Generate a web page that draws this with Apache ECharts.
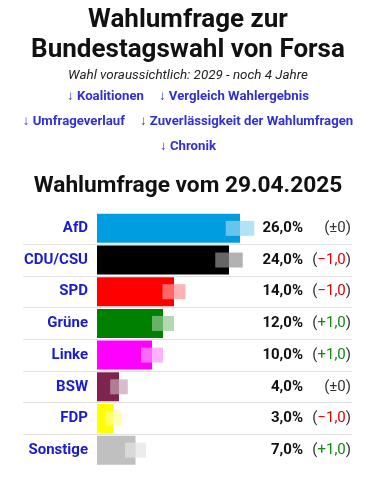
<!DOCTYPE html>
<html>
<head>
<meta charset="utf-8">
<script src="https://cdn.jsdelivr.net/npm/echarts@6/dist/echarts.min.js"></script>
<style>
html,body{margin:0;padding:0;background:#fff;}
#c{width:376px;height:480px;}
</style>
</head>
<body>
<div id="c"></div>
<script>
const categories = ['AfD', 'CDU/CSU', 'SPD', 'Grüne', 'Linke', 'BSW', 'FDP', 'Sonstige'];
const values = [26, 24, 14, 12, 10, 4, 3, 7];
const changes = [0, -1, -1, 1, 1, 0, -1, 1];
const margins = [2.6, 2.5, 2.1, 2.0, 2.0, 1.6, 1.5, 1.9];
const partyColors = ['#009ee0', '#000000', '#ff0000', '#008000', '#ff00ff', '#7d254f', '#ffff00', '#c0c0c0'];
const titleLines = ['Wahlumfrage zur', 'Bundestagswahl von Forsa'];
const subtitle = 'Wahl voraussichtlich: 2029 - noch 4 Jahre';
const linkRows = [['↓ Koalitionen', '↓ Vergleich Wahlergebnis'], ['↓ Umfrageverlauf', '↓ Zuverlässigkeit der Wahlumfragen'], ['↓ Chronik']];
const heading = 'Wahlumfrage vom 29.04.2025';

const FONT = 'Roboto';
const fmt = v => v.toFixed(1).replace('.', ',');

const titles = [];
titleLines.forEach((t, i) => titles.push({
  text: t, left: 'center', top: 5 + i * 30, padding: 0,
  textStyle: {fontFamily: FONT, fontSize: 26, fontWeight: 'bold', color: '#111', lineHeight: 30}
}));
titles.push({
  text: subtitle, left: 'center', top: 67, padding: 0,
  textStyle: {fontFamily: FONT, fontSize: 13.4, fontStyle: 'italic', fontWeight: 'normal', color: '#222', lineHeight: 18}
});
linkRows.forEach((row, i) => titles.push({
  text: row.map(s => '{a|' + s + '}').join('{g|}'), left: 'center', top: 88 + i * 25, padding: 0,
  textStyle: {
    rich: {
      a: {fontFamily: FONT, fontSize: 13.2, color: '#3030d6', lineHeight: 18},
      g: {width: 15, lineHeight: 18}
    }
  }
}));
titles.push({
  text: heading, left: 'center', top: 171, padding: 0,
  textStyle: {fontFamily: FONT, fontSize: 22.7, fontWeight: 'bold', color: '#111', lineHeight: 30}
});

function changeLabel(c) {
  if (c === 0) return '{p|(±0)}';
  const k = c > 0 ? 'g' : 'r';
  const s = (c > 0 ? '+' : '−') + fmt(Math.abs(c));
  return '{p|(}{' + k + '|' + s + '}{p|)}';
}

const gridTop = 212.5, gridH = 253.5;

const option = {
  animation: false,
  title: titles,
  grid: [
    {left: 97, width: 275, top: gridTop, height: gridH},
    {left: 23, right: 24, top: gridTop, height: gridH}
  ],
  xAxis: [
    {type: 'value', gridIndex: 0, min: 0, max: 50, show: false},
    {type: 'value', gridIndex: 1, min: 0, max: 1, show: false}
  ],
  yAxis: [
    {
      type: 'category', gridIndex: 0, data: categories, inverse: true,
      axisLine: {show: false}, axisTick: {show: false}, splitLine: {show: false},
      axisLabel: {margin: 9, fontFamily: FONT, fontSize: 15, fontWeight: 'bold', color: '#1a1ad0'}
    },
    {
      type: 'category', gridIndex: 1, data: categories, inverse: true,
      axisLine: {show: false}, axisTick: {show: false}, axisLabel: {show: false},
      splitLine: {show: true, showMinLine: false, showMaxLine: false, lineStyle: {color: '#e2e2e2', width: 1}}
    },
    {
      type: 'category', gridIndex: 1, data: categories, inverse: true, position: 'right',
      axisLine: {show: false}, axisTick: {show: false}, splitLine: {show: false},
      axisLabel: {
        margin: -49, align: 'right', fontFamily: FONT, fontSize: 15, fontWeight: 'bold', color: '#111',
        formatter: (v, i) => fmt(values[i]) + '%'
      }
    },
    {
      type: 'category', gridIndex: 1, data: categories, inverse: true, position: 'right',
      axisLine: {show: false}, axisTick: {show: false}, splitLine: {show: false},
      axisLabel: {
        margin: -1, align: 'right',
        formatter: (v, i) => changeLabel(changes[i]),
        rich: {
          p: {fontFamily: FONT, fontSize: 15, color: '#333'},
          r: {fontFamily: FONT, fontSize: 15, color: '#e00000'},
          g: {fontFamily: FONT, fontSize: 15, color: '#128a12'}
        }
      }
    }
  ],
  series: [
    {
      type: 'bar', xAxisIndex: 0, yAxisIndex: 0, barWidth: 29, z: 2,
      data: values.map((v, i) => ({value: v, itemStyle: {color: partyColors[i]}}))
    },
    {
      type: 'custom', xAxisIndex: 0, yAxisIndex: 0, z: 5,
      encode: {x: 1, y: 0},
      data: values.map((v, i) => [i, v, margins[i]]),
      renderItem: function (params, api) {
        const i = api.value(0), v = api.value(1), m = api.value(2);
        const a = api.coord([v - m, i]);
        const b = api.coord([v, i]);
        const c = api.coord([v + m, i]);
        const h = 15;
        const y = b[1] - h / 2;
        return {
          type: 'group',
          children: [
            {type: 'rect', z2: 10, shape: {x: a[0], y: y, width: b[0] - a[0], height: h}, style: {fill: '#ffffff', opacity: 0.4}},
            {type: 'rect', z2: 10, shape: {x: b[0], y: y, width: c[0] - b[0], height: h}, style: {fill: partyColors[i], opacity: 0.3}}
          ]
        };
      }
    }
  ]
};

const chart = echarts.init(document.getElementById('c'), null, {renderer: 'canvas'});
chart.setOption(option);
</script>
</body>
</html>
